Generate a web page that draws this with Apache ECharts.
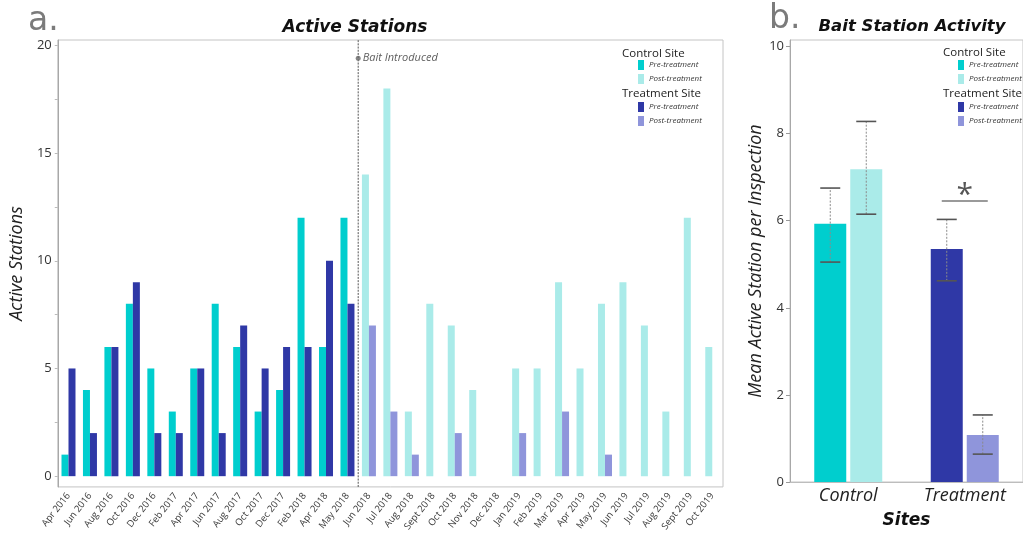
<!DOCTYPE html>
<html>
<head>
<meta charset="utf-8">
<script src="https://cdn.jsdelivr.net/npm/echarts@6/dist/echarts.min.js"></script>
<style>
  html, body { margin: 0; padding: 0; background: #fff; }
  #chart { width: 1023px; height: 534px; }
</style>
</head>
<body>
<div id="chart"></div>
<script>
// ---- Panel a: monthly active stations ----
const months = [
  'Apr 2016', 'Jun 2016', 'Aug 2016', 'Oct 2016', 'Dec 2016', 'Feb 2017', 'Apr 2017',
  'Jun 2017', 'Aug 2017', 'Oct 2017', 'Dec 2017', 'Feb 2018', 'Apr 2018', 'May 2018',
  'Jun 2018', 'Jul 2018', 'Aug 2018', 'Sept 2018', 'Oct 2018', 'Nov 2018', 'Dec 2018',
  'Jan 2019', 'Feb 2019', 'Mar 2019', 'Apr 2019', 'May 2019', 'Jun 2019', 'Jul 2019',
  'Aug 2019', 'Sept 2019', 'Oct 2019'
];
// Apr 2016 .. May 2018
const controlPre = [1, 4, 6, 8, 5, 3, 5, 8, 6, 3, 4, 12, 6, 12];
const treatmentPre = [5, 2, 6, 9, 2, 2, 5, 2, 7, 5, 6, 6, 10, 8];
// Jun 2018 .. Oct 2019
const controlPost = [14, 18, 3, 8, 7, 4, 0, 5, 5, 9, 5, 8, 9, 7, 3, 12, 6];
const treatmentPost = [7, 3, 1, 0, 2, 0, 0, 2, 0, 3, 0, 1, 0, 0, 0, 0, 0];
const stationTicks = [0, 5, 10, 15, 20];
const stationMinorTicks = [0, 2.5, 5, 7.5, 10, 12.5, 15, 17.5, 20];
const baitMonth = 'Jun 2018';
const baitMarkerLevel = 19.4;

// ---- Panel b: mean activity per inspection ----
const sites = ['Control', 'Treatment'];
const meanPre = [5.93, 5.35];
const meanPost = [7.18, 1.08];
const preLow = [5.05, 4.62];
const preHigh = [6.75, 6.03];
const postLow = [6.15, 0.64];
const postHigh = [8.28, 1.54];
const significanceLevel = 6.45;
const meanTicks = [0, 2, 4, 6, 8, 10];

// colours
const C_CTRL_PRE = '#00CECE';
const C_CTRL_POST = '#AAEBE9';
const C_TRT_PRE = '#2F38A6';
const C_TRT_POST = '#8F95DB';

const LABEL_FONT = '"Open Sans", "Noto Sans", sans-serif';
const TITLE_FONT = '"DejaVu Sans", Verdana, sans-serif';

const A_MIN = -0.5, A_MAX = 20.25;
const B_MIN = 0, B_MAX = 10.15;

const nulls = arr => arr.map(() => null);
const ctrlPreFull = controlPre.concat(nulls(controlPost));
const trtPreFull = treatmentPre.concat(nulls(treatmentPost));
const ctrlPostFull = nulls(controlPre).concat(controlPost);
const trtPostFull = nulls(treatmentPre).concat(treatmentPost);
const baitIndex = months.indexOf(baitMonth);

const B_BAR_W = 32;
const B_BAR_GAP = 4;
const B_OFFSET = (B_BAR_W + B_BAR_GAP) / 2;

function errorSeries(lows, highs, offset) {
  return {
    type: 'custom',
    xAxisIndex: 2, yAxisIndex: 1,
    z: 5,
    silent: true,
    data: lows.map((lo, i) => [i, lo, highs[i]]),
    renderItem(params, api) {
      const cx = api.coord([api.value(0), 0])[0] + offset;
      const yLo = api.coord([api.value(0), api.value(1)])[1];
      const yHi = api.coord([api.value(0), api.value(2)])[1];
      const cap = 10;
      return {
        type: 'group',
        children: [
          { type: 'line', shape: { x1: cx, y1: yLo, x2: cx, y2: yHi },
            style: { stroke: '#8a8a8a', lineWidth: 1, lineDash: [2, 1.5] } },
          { type: 'line', shape: { x1: cx - cap, y1: yHi, x2: cx + cap, y2: yHi },
            style: { stroke: '#555', lineWidth: 1.6 } },
          { type: 'line', shape: { x1: cx - cap, y1: yLo, x2: cx + cap, y2: yLo },
            style: { stroke: '#555', lineWidth: 1.6 } }
        ]
      };
    }
  };
}

const legendText = { fontFamily: LABEL_FONT, fontStyle: 'italic', fontSize: 8, color: '#333' };
const legendFormatter = name => name.replace(/^(Control|Treatment) /, '');
function legendBlock(names, left, top) {
  return {
    data: names, orient: 'vertical', left: left, top: top,
    icon: 'rect', itemWidth: 6, itemHeight: 10, itemGap: 4,
    selectedMode: false, padding: 0,
    formatter: legendFormatter, textStyle: legendText
  };
}

const chart = echarts.init(document.getElementById('chart'), null, { renderer: 'canvas' });

chart.setOption({
  backgroundColor: '#fff',
  animation: false,
  grid: [
    { left: 50, top: 40, width: 673, height: 447, show: true, borderColor: '#c4c4c4', borderWidth: 1, backgroundColor: 'transparent' },
    { left: 790, top: 40, right: -4, height: 447, show: true, borderColor: '#c4c4c4', borderWidth: 1, backgroundColor: 'transparent' }
  ],
  xAxis: [
    {
      type: 'category', gridIndex: 0, data: months, boundaryGap: true,
      axisLine: { show: false }, axisTick: { show: false },
      axisLabel: { interval: 0, rotate: 52, fontSize: 9.5, color: '#3a3a3a', fontFamily: LABEL_FONT, margin: 7 }
    },
    { type: 'value', gridIndex: 0, min: 0, max: months.length, show: false },
    {
      type: 'category', gridIndex: 1, data: sites, boundaryGap: true,
      axisLine: { show: true, lineStyle: { color: '#bdbdbd', width: 1 } },
      axisTick: { show: false },
      axisLabel: { fontSize: 18, fontStyle: 'italic', color: '#222', fontFamily: LABEL_FONT, margin: 5 },
      name: 'Sites', nameLocation: 'middle', nameGap: 30,
      nameTextStyle: { fontSize: 17, fontWeight: 'bold', fontStyle: 'italic', color: '#111', fontFamily: TITLE_FONT }
    }
  ],
  yAxis: [
    {
      type: 'value', gridIndex: 0, min: A_MIN, max: A_MAX,
      splitLine: { show: false },
      axisLine: { show: true, lineStyle: { color: '#a8a8a8' } },
      axisTick: { show: true, customValues: stationMinorTicks, length: 3, lineStyle: { color: '#bbb' } },
      axisLabel: { customValues: stationTicks, fontSize: 13, color: '#333', fontFamily: LABEL_FONT, margin: 6 },
      name: 'Active Stations', nameLocation: 'middle', nameGap: 21,
      nameTextStyle: { fontSize: 18, fontStyle: 'italic', color: '#222', fontFamily: LABEL_FONT }
    },
    {
      type: 'value', gridIndex: 1, min: B_MIN, max: B_MAX,
      splitLine: { show: false },
      axisLine: { show: true, lineStyle: { color: '#a8a8a8' } },
      axisTick: { show: true, customValues: meanTicks, length: 4, lineStyle: { color: '#999' } },
      axisLabel: { customValues: meanTicks, fontSize: 13, color: '#333', fontFamily: LABEL_FONT, margin: 6 },
      name: 'Mean Active Station per Inspection', nameLocation: 'middle', nameGap: 18,
      nameTextStyle: { fontSize: 18, fontStyle: 'italic', color: '#222', fontFamily: LABEL_FONT }
    }
  ],
  legend: [
    legendBlock(['Control Pre-treatment', 'Control Post-treatment'], 638, 60),
    legendBlock(['Treatment Pre-treatment', 'Treatment Post-treatment'], 638, 102),
    legendBlock(['Control Pre-treatment', 'Control Post-treatment'], 958, 60),
    legendBlock(['Treatment Pre-treatment', 'Treatment Post-treatment'], 958, 102)
  ],
  graphic: [
    { type: 'text', left: 28, top: 5, style: { text: 'a.', fontSize: 33, fontFamily: '"DejaVu Sans", sans-serif', fill: '#7b7b7b' } },
    { type: 'text', x: 355, y: 28, style: { text: 'Active Stations', fontSize: 17, fontWeight: 'bold', fontStyle: 'italic', fontFamily: TITLE_FONT, fill: '#111', align: 'center', verticalAlign: 'middle' } },
    { type: 'text', left: 769, top: 3, style: { text: 'b.', fontSize: 33, fontFamily: '"DejaVu Sans", sans-serif', fill: '#7b7b7b' } },
    { type: 'text', x: 912, y: 27, style: { text: 'Bait Station Activity', fontSize: 16.5, fontWeight: 'bold', fontStyle: 'italic', fontFamily: TITLE_FONT, fill: '#111', align: 'center', verticalAlign: 'middle' } },
    { type: 'text', x: 622, y: 54, style: { text: 'Control Site', fontSize: 11.5, fontFamily: LABEL_FONT, fill: '#222', verticalAlign: 'middle' } },
    { type: 'text', x: 622, y: 94, style: { text: 'Treatment Site', fontSize: 11.5, fontFamily: LABEL_FONT, fill: '#222', verticalAlign: 'middle' } },
    { type: 'text', x: 943, y: 53, style: { text: 'Control Site', fontSize: 11.5, fontFamily: LABEL_FONT, fill: '#222', verticalAlign: 'middle' } },
    { type: 'text', x: 943, y: 94, style: { text: 'Treatment Site', fontSize: 11.5, fontFamily: LABEL_FONT, fill: '#222', verticalAlign: 'middle' } }
  ],
  series: [
    // panel a bars
    { name: 'Control Pre-treatment', type: 'bar', xAxisIndex: 0, yAxisIndex: 0, stack: 'control',
      data: ctrlPreFull, barWidth: 7, barGap: '0%', itemStyle: { color: C_CTRL_PRE } },
    { name: 'Treatment Pre-treatment', type: 'bar', xAxisIndex: 0, yAxisIndex: 0, stack: 'treatment',
      data: trtPreFull, barWidth: 7, barGap: '0%', itemStyle: { color: C_TRT_PRE } },
    { name: 'Control Post-treatment', type: 'bar', xAxisIndex: 0, yAxisIndex: 0, stack: 'control',
      data: ctrlPostFull, barWidth: 7, barGap: '0%', itemStyle: { color: C_CTRL_POST } },
    { name: 'Treatment Post-treatment', type: 'bar', xAxisIndex: 0, yAxisIndex: 0, stack: 'treatment',
      data: trtPostFull, barWidth: 7, barGap: '0%', itemStyle: { color: C_TRT_POST } },
    // bait introduction divider
    { type: 'line', xAxisIndex: 1, yAxisIndex: 0, silent: true, symbol: 'none',
      data: [[baitIndex, A_MIN], [baitIndex, A_MAX]],
      lineStyle: { color: '#555', width: 1, type: [2, 1.2] }, z: 4 },
    { type: 'scatter', xAxisIndex: 1, yAxisIndex: 0, silent: true,
      data: [[baitIndex, baitMarkerLevel]], symbol: 'circle', symbolSize: 5,
      itemStyle: { color: '#666' }, z: 5,
      label: { show: true, position: 'right', distance: 2, formatter: 'Bait Introduced',
        fontSize: 11, fontStyle: 'italic', color: '#333', fontFamily: LABEL_FONT } },
    // panel b bars
    { name: 'Pre-treatment', type: 'bar', xAxisIndex: 2, yAxisIndex: 1,
      barWidth: B_BAR_W, barGap: (B_BAR_GAP / B_BAR_W * 100) + '%',
      data: meanPre.map((v, i) => ({ value: v, itemStyle: { color: [C_CTRL_PRE, C_TRT_PRE][i] } })) },
    { name: 'Post-treatment', type: 'bar', xAxisIndex: 2, yAxisIndex: 1,
      barWidth: B_BAR_W, barGap: (B_BAR_GAP / B_BAR_W * 100) + '%',
      data: meanPost.map((v, i) => ({ value: v, itemStyle: { color: [C_CTRL_POST, C_TRT_POST][i] } })) },
    errorSeries(preLow, preHigh, -B_OFFSET),
    errorSeries(postLow, postHigh, B_OFFSET),
    // significance bracket over the treatment site
    { type: 'custom', xAxisIndex: 2, yAxisIndex: 1, silent: true, z: 6,
      data: [[sites.indexOf('Treatment'), significanceLevel]],
      renderItem(params, api) {
        const p = api.coord([api.value(0), api.value(1)]);
        const half = 23;
        return {
          type: 'group',
          children: [
            { type: 'line', shape: { x1: p[0] - half, y1: p[1], x2: p[0] + half, y2: p[1] },
              style: { stroke: '#9a9a9a', lineWidth: 2 } },
            { type: 'text', x: p[0], y: p[1] + 9.5,
              style: { text: '*', fontSize: 30, fontFamily: LABEL_FONT, fill: '#555', align: 'center', verticalAlign: 'bottom' } }
          ]
        };
      } }
  ]
});
</script>
</body>
</html>
